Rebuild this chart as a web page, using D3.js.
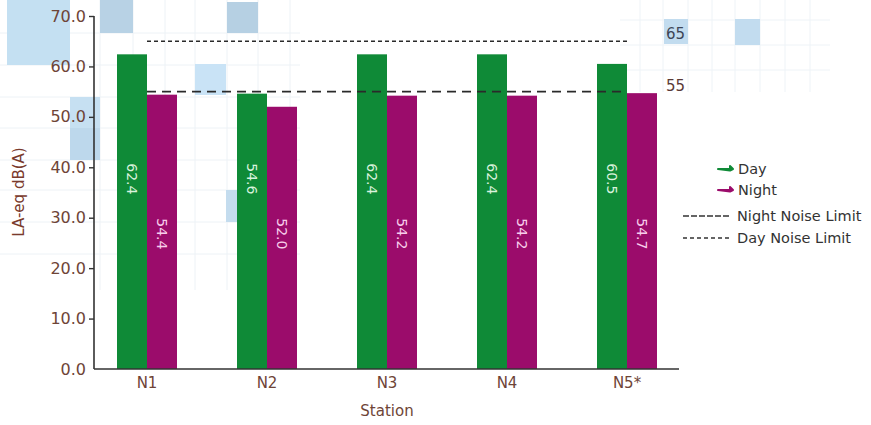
<!DOCTYPE html>
<html>
<head>
<meta charset="utf-8">
<script src="https://cdn.jsdelivr.net/npm/d3@7/dist/d3.min.js"></script>
<style>
  html, body { margin: 0; padding: 0; background: #ffffff; }
  svg { display: block; font-family: "DejaVu Sans", sans-serif; }
</style>
</head>
<body>
<svg id="chart" width="871" height="425"></svg>
<script>
// Noise monitoring results per station, LAeq dB(A)
const stations = ["N1", "N2", "N3", "N4", "N5*"];
const dayValues = [62.4, 54.6, 62.4, 62.4, 60.5];
const nightValues = [54.4, 52.0, 54.2, 54.2, 54.7];
const yTicks = [0, 10, 20, 30, 40, 50, 60, 70];
const dayLimit = 65;
const nightLimit = 55;
const seriesNames = ["Day", "Night"];
const limitNames = ["Night Noise Limit", "Day Noise Limit"];

const GREEN = "#0f8a37";
const PURPLE = "#9b0c6b";
const AXIS_TEXT = "#6e4437";

const svg = d3.select("#chart");

// decorative tiled backdrop
const deco = svg.append("g").attr("class", "backdrop");
const gridX = [100, 133, 165, 195, 227, 258, 290];
const gridY = [33, 65, 97, 128, 160, 190, 222, 254];
gridX.forEach(x => deco.append("line").attr("x1", x).attr("x2", x).attr("y1", 0).attr("y2", 290)
  .attr("stroke", "#edf2f6").attr("stroke-width", 1));
gridY.forEach(y => deco.append("line").attr("x1", 0).attr("x2", 300).attr("y1", y).attr("y2", y)
  .attr("stroke", "#edf2f6").attr("stroke-width", 1));
const gridX2 = [640, 663, 688, 712, 735, 760, 785, 810];
const gridY2 = [20, 45, 70];
gridX2.forEach(x => deco.append("line").attr("x1", x).attr("x2", x).attr("y1", 0).attr("y2", 92)
  .attr("stroke", "#eef3f7").attr("stroke-width", 1));
gridY2.forEach(y => deco.append("line").attr("x1", 620).attr("x2", 830).attr("y1", y).attr("y2", y)
  .attr("stroke", "#eef3f7").attr("stroke-width", 1));
const tiles = [
  [7, 0, 63, 65, "#c4e0f2"],
  [100, 0, 33, 33, "#b8d2e5"],
  [227, 2, 31, 31, "#b6d0e3"],
  [195, 64, 31, 31, "#c9e3f6"],
  [70, 97, 30, 31, "#c6e0f2"],
  [70, 128, 30, 32, "#bdd8ec"],
  [226, 190, 12, 32, "#c4dcee"],
  [664, 19, 24, 25, "#c2dcef"],
  [735, 19, 25, 26, "#c2dcef"]
];
tiles.forEach(t => deco.append("rect").attr("x", t[0]).attr("y", t[1])
  .attr("width", t[2]).attr("height", t[3]).attr("fill", t[4]));

// scales
const y = d3.scaleLinear().domain([0, 70]).range([369, 16]);
const x = d3.scaleBand().domain(stations).range([87, 687]).paddingInner(0.5).paddingOuter(0.25);
const half = x.bandwidth() / 2;

// bars
const rows = stations.map((s, i) => ({ s, day: dayValues[i], night: nightValues[i] }));
const groups = svg.append("g").selectAll("g").data(rows).join("g")
  .attr("transform", d => `translate(${x(d.s)},0)`);
groups.append("rect").attr("x", 0).attr("width", half)
  .attr("y", d => y(d.day)).attr("height", d => y(0) - y(d.day)).attr("fill", GREEN);
groups.append("rect").attr("x", half).attr("width", half)
  .attr("y", d => y(d.night)).attr("height", d => y(0) - y(d.night)).attr("fill", PURPLE);

// value labels, rotated inside the bars
groups.append("text")
  .attr("transform", `translate(${half / 2},${y(37.7)}) rotate(90)`)
  .attr("text-anchor", "middle").attr("dy", "0.35em")
  .attr("font-size", 14).attr("fill", "#d8f2dc")
  .text(d => d.day.toFixed(1));
groups.append("text")
  .attr("transform", `translate(${half * 1.5},${y(26.8)}) rotate(90)`)
  .attr("text-anchor", "middle").attr("dy", "0.35em")
  .attr("font-size", 14).attr("fill", "#f7cdea")
  .text(d => d.night.toFixed(1));

// noise limit lines, spanning from the first to the last station
const xStart = x(stations[0]) + half;
const xEnd = x(stations[stations.length - 1]) + half;
svg.append("line").attr("x1", xStart).attr("x2", xEnd)
  .attr("y1", y(dayLimit)).attr("y2", y(dayLimit))
  .attr("stroke", "#2a2a2a").attr("stroke-width", 1.5).attr("stroke-dasharray", "4,3");
svg.append("line").attr("x1", xStart).attr("x2", xEnd)
  .attr("y1", y(nightLimit)).attr("y2", y(nightLimit))
  .attr("stroke", "#2a2a2a").attr("stroke-width", 1.8).attr("stroke-dasharray", "9,6");
svg.append("text").attr("x", 666).attr("y", y(dayLimit) - 2)
  .attr("font-size", 15).attr("fill", "#3d4656").text(dayLimit);
svg.append("text").attr("x", 666).attr("y", y(nightLimit) - 1)
  .attr("font-size", 15).attr("fill", "#5a3a36").text(nightLimit);

// y axis
const yAxis = svg.append("g").attr("transform", "translate(94,0)")
  .call(d3.axisLeft(y).tickValues(yTicks).tickFormat(d3.format(".1f")).tickSize(5).tickPadding(3));
yAxis.select(".domain").remove();
yAxis.selectAll(".tick line").attr("stroke", "#333").attr("stroke-width", 1.4)
  .filter(d => d === 0).remove();
yAxis.selectAll(".tick text").attr("font-size", 16).attr("fill", AXIS_TEXT)
  .attr("font-family", "DejaVu Sans, sans-serif");
svg.append("line").attr("x1", 94).attr("x2", 94).attr("y1", y(70)).attr("y2", y(0))
  .attr("stroke", "#333").attr("stroke-width", 1.6);

// x axis
const xAxis = svg.append("g").attr("transform", `translate(0,${y(0)})`)
  .call(d3.axisBottom(x).tickSize(0).tickPadding(8));
xAxis.select(".domain").remove();
xAxis.selectAll(".tick text").attr("font-size", 15).attr("fill", AXIS_TEXT)
  .attr("font-family", "DejaVu Sans, sans-serif");
svg.append("line").attr("x1", 94).attr("x2", 679).attr("y1", y(0)).attr("y2", y(0))
  .attr("stroke", "#333").attr("stroke-width", 1.6);

// axis titles
svg.append("text").attr("x", 387).attr("y", 416).attr("text-anchor", "middle")
  .attr("font-size", 15).attr("fill", AXIS_TEXT).text("Station");
svg.append("text").attr("transform", "translate(24,192) rotate(-90)")
  .attr("text-anchor", "middle").attr("font-size", 15).attr("fill", "#7a3a2c")
  .text("LA-eq dB(A)");

// legend
const legend = svg.append("g");
const seriesColors = [GREEN, PURPLE];
const seriesY = [169, 190];
seriesNames.forEach((name, i) => {
  const ly = seriesY[i];
  legend.append("path")
    .attr("d", `M718,${ly} L730,${ly} L730,${ly - 3} L733,${ly} L730,${ly + 1.5} Z`)
    .attr("fill", seriesColors[i]).attr("stroke", seriesColors[i]).attr("stroke-width", 2)
    .attr("stroke-linejoin", "round");
  legend.append("text").attr("x", 738).attr("y", ly).attr("dy", "0.35em")
    .attr("font-size", 14.5).attr("fill", "#333").text(name);
});
const limitY = [216, 238];
const limitDash = ["6,2", "4,3"];
limitNames.forEach((name, i) => {
  const ly = limitY[i];
  legend.append("line").attr("x1", 683).attr("x2", 730).attr("y1", ly).attr("y2", ly)
    .attr("stroke", "#333").attr("stroke-width", 1.3).attr("stroke-dasharray", limitDash[i]);
  legend.append("text").attr("x", 737).attr("y", ly).attr("dy", "0.35em")
    .attr("font-size", 14.5).attr("fill", "#333").text(name);
});
</script>
</body>
</html>
